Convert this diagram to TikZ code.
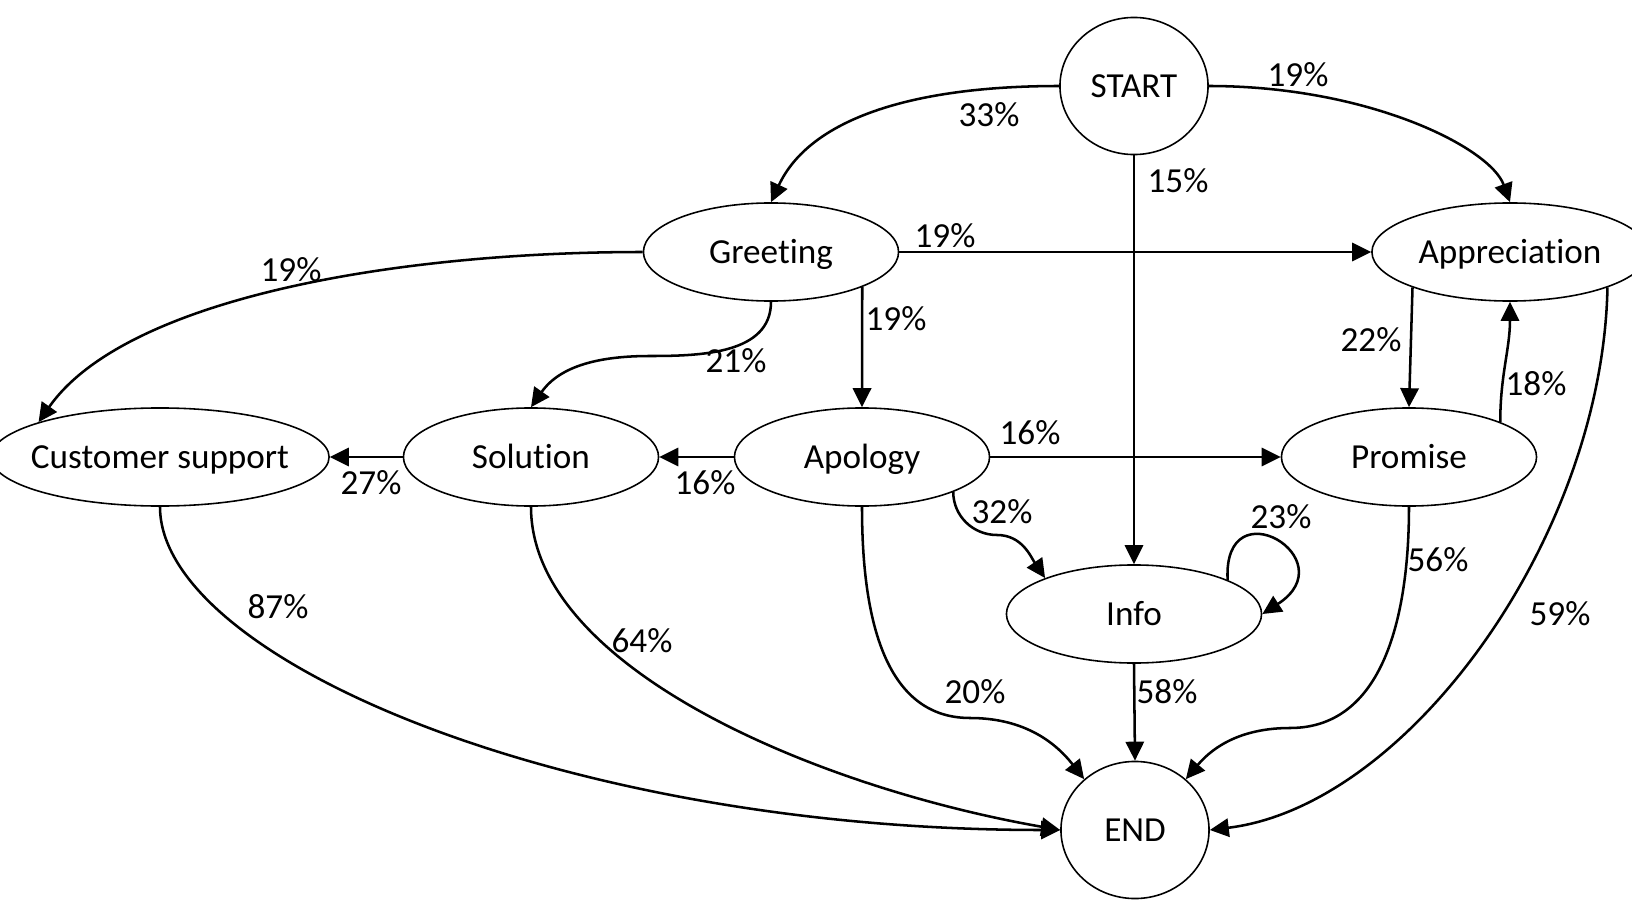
\documentclass[tikz,border=0pt]{standalone}
\usepackage{fontspec}
\setmainfont{Carlito}[Ligatures={NoCommon,NoContextual}, Contextuals=NoAlternate]
\usepackage{tikz}
\usetikzlibrary{arrows.meta, shapes.geometric}

\begin{document}
\begin{tikzpicture}[x=0.01cm, y=-0.01cm,
    state/.style={draw, ellipse, line width=0.45pt, minimum width=2.55cm, minimum height=0.98cm, inner sep=0pt, text height=0.644em, text depth=0pt},
    term/.style={draw, ellipse, line width=0.45pt, minimum width=1.48cm, minimum height=1.37cm, inner sep=0pt, text height=0.644em, text depth=0pt},
    edge/.style={-{Triangle[length=5.4pt,width=5.2pt]}, line width=0.72pt},
    pct/.style={inner sep=0pt}]
    \useasboundingbox (0,0) rectangle (1632,903);

    % States
    \node[term] (start) at (1134,86) {START};
    \node[term] (finish) at (1135,830) {END};
    \node[state] (greeting) at (771,252) {Greeting};
    \node[state, minimum width=2.76cm] (appreciation) at (1510,252) {Appreciation};
    \node[state, minimum width=3.38cm, inner xsep=-0.2cm] (custsup) at (160,457) {Customer support};
    \node[state] (solution) at (531,457) {Solution};
    \node[state] (apology) at (862,457) {Apology};
    \node[state] (promise) at (1409,457) {Promise};
    \node[state] (info) at (1134,614) {Info};

    % Transitions from START
    \draw[edge] (start.west) .. controls +(-150,0) and +(38,-82) .. (greeting.north);
    \draw[edge] (start.east) .. controls +(159,0) and +(-20,-55) .. (appreciation.north);
    \draw[edge] (start.south) -- (info.north);

    % Transitions from Greeting
    \draw[edge] (greeting.east) -- (appreciation.west);
    \draw[edge] (greeting.west) .. controls +(-250,0) and +(86,-123) .. (custsup.164);
    \draw[edge] (greeting.south) to[out=-90,in=0] (650,356) to[out=180,in=55] (solution.north);
    \draw[edge] (greeting.-21) -- (apology.north);

    % Transitions between middle states
    \draw[edge] (apology.west) -- (solution.east);
    \draw[edge] (solution.west) -- (custsup.east);
    \draw[edge] (apology.east) -- (promise.west);
    \draw[edge] (appreciation.200) -- (promise.north);
    \draw[edge] (promise.21) to[out=90,in=-90] (appreciation.south);
    \draw[edge] (apology.-21) to[out=-90,in=180] (997,535) to[out=0,in=124] (info.158);
    \draw[edge] (info.20) .. controls +(-5,-95) and +(85,-55) .. (info.east);

    % Transitions to END
    \draw[edge] (custsup.south) .. controls +(0,150) and +(-500,0) .. (finish.west);
    \draw[edge] (solution.south) .. controls +(0,160) and +(-246,-43) .. (finish.west);
    \draw[edge] (apology.south) to[out=-90,in=180] (970,718) to[out=0,in=128] (finish.135);
    \draw[edge] (info.south) -- (finish.north);
    \draw[edge] (promise.south) to[out=-90,in=0] (1290,728) to[out=180,in=50] (finish.45);
    \draw[edge] (appreciation.-20) .. controls +(-5,250) and +(198,-24) .. (finish.east);

    % Percentages
    \node[pct] (l-sg) at (989,115) {33\%};
    \node[pct] (l-sa) at (1298,75) {19\%};
    \node[pct] (l-si) at (1178,181) {15\%};
    \node[pct] (l-ga) at (945,236) {19\%};
    \node[pct] (l-gc) at (291,270) {19\%};
    \node[pct] (l-gs) at (736,361) {21\%};
    \node[pct] (l-gp) at (896,319) {19\%};
    \node[pct] (l-ap) at (1371,340) {22\%};
    \node[pct] (l-pa) at (1536,384) {18\%};
    \node[pct] (l-pp) at (1030,433) {16\%};
    \node[pct] (l-sc) at (371,483) {27\%};
    \node[pct] (l-ps) at (705,483) {16\%};
    \node[pct] (l-pi) at (1002,512) {32\%};
    \node[pct] (l-ii) at (1281,517) {23\%};
    \node[pct] (l-pe) at (1438,560) {56\%};
    \node[pct] (l-ae) at (1560,614) {59\%};
    \node[pct] (l-ce) at (278,607) {87\%};
    \node[pct] (l-se) at (642,641) {64\%};
    \node[pct] (l-oe) at (975,692) {20\%};
    \node[pct] (l-ie) at (1167,692) {58\%};
\end{tikzpicture}
\end{document}
